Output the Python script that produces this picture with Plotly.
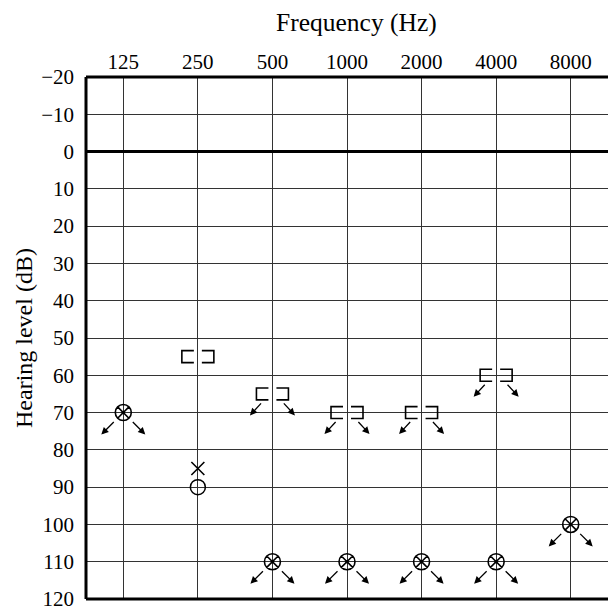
import plotly.graph_objects as go

# ---------------- data ----------------
freq_labels = ["125", "250", "500", "1000", "2000", "4000", "8000"]
y_ticks = list(range(-20, 121, 10))

# air conduction, both ears (⊗) – all no-response
both_freqs = ["125", "500", "1000", "2000", "4000", "8000"]
both_levels = [70, 110, 110, 110, 110, 100]
both_noresp = [True, True, True, True, True, True]

# right ear air (O)
right_freqs = ["250"]
right_levels = [90]

# left ear air (X)
left_freqs = ["250"]
left_levels = [85]

# masked bone conduction ([ ])
bone_freqs = ["250", "500", "1000", "2000", "4000"]
bone_levels = [55, 65, 70, 70, 60]
bone_noresp = [False, True, True, True, True]

# ---------------- layout geometry ----------------
W, H = 608, 608
ML, MR, MT, MB = 86, 0, 76.5, 8.5
XR = [-0.5, 6.5]
YR = [120, -20]
PW = W - ML - MR
PH = H - MT - MB
px_x = PW / (XR[1] - XR[0])          # pixels per category unit
px_y = PH / abs(YR[0] - YR[1])       # pixels per dB

FONT = "Liberation Serif, Times New Roman, serif"
INK = "black"


def xi(labels):
    return [freq_labels.index(f) for f in labels]


fig = go.Figure()

# both ears ⊗
fig.add_trace(go.Scatter(
    x=xi(both_freqs), y=both_levels, mode="markers",
    marker=dict(symbol="circle-x-open", size=16, color=INK, line=dict(width=1.6, color=INK)),
    showlegend=False, hoverinfo="skip", cliponaxis=False))
fig.add_trace(go.Scatter(
    x=xi(both_freqs), y=both_levels, mode="markers",
    marker=dict(symbol="circle", size=3.5, color=INK),
    showlegend=False, hoverinfo="skip", cliponaxis=False))

# right ear O
fig.add_trace(go.Scatter(
    x=xi(right_freqs), y=right_levels, mode="markers",
    marker=dict(symbol="circle-open", size=15, color=INK, line=dict(width=1.5, color=INK)),
    showlegend=False, hoverinfo="skip"))

# left ear X
fig.add_trace(go.Scatter(
    x=xi(left_freqs), y=left_levels, mode="markers",
    marker=dict(symbol="x-thin-open", size=13, color=INK, line=dict(width=1.6, color=INK)),
    showlegend=False, hoverinfo="skip"))

# masked bone brackets
b_in = 4 / px_x
b_out = 16 / px_x
b_h = 6 / px_y
bx, by = [], []
for x0, y0 in zip(xi(bone_freqs), bone_levels):
    bx += [x0 - b_in, x0 - b_out, x0 - b_out, x0 - b_in, None,
           x0 + b_in, x0 + b_out, x0 + b_out, x0 + b_in, None]
    by += [y0 - b_h, y0 - b_h, y0 + b_h, y0 + b_h, None,
           y0 - b_h, y0 - b_h, y0 + b_h, y0 + b_h, None]
fig.add_trace(go.Scatter(
    x=bx, y=by, mode="lines", line=dict(color=INK, width=1.6),
    showlegend=False, hoverinfo="skip"))

# no-response arrows
annotations = []


def add_arrows(x0, y0, head, tail):
    for sgn in (-1, 1):
        hx, hy = sgn * head[0], head[1]
        tx, ty = sgn * tail[0], tail[1]
        annotations.append(dict(
            x=x0 + hx / px_x, y=y0 + hy / px_y, xref="x", yref="y",
            ax=tx - hx, ay=ty - hy, axref="pixel", ayref="pixel",
            text="", showarrow=True, arrowhead=2, arrowsize=1.1,
            arrowwidth=1.3, arrowcolor=INK))


for x0, y0, nr in zip(xi(both_freqs), both_levels, both_noresp):
    if nr:
        add_arrows(x0, y0, (22, 22), (8, 8))
for x0, y0, nr in zip(xi(bone_freqs), bone_levels, bone_noresp):
    if nr:
        add_arrows(x0, y0, (22.5, 21.5), (10, 8))

# titles
annotations.append(dict(
    text="Frequency (Hz)", xref="paper", yref="paper",
    x=(356 - ML) / PW, y=1 + (MT - 22) / PH, xanchor="center", yanchor="middle",
    showarrow=False, font=dict(family=FONT, size=25.5, color=INK)))
annotations.append(dict(
    text="Hearing level (dB)", xref="paper", yref="paper",
    x=(24 - ML) / PW, y=0.5, xanchor="center", yanchor="middle", textangle=-90,
    showarrow=False, font=dict(family=FONT, size=24, color=INK)))

# heavy frame lines and 0 dB line
shapes = [
    dict(type="line", xref="paper", yref="paper", x0=0, x1=0, y0=0, y1=1,
         line=dict(color=INK, width=3)),
    dict(type="line", xref="paper", yref="paper", x0=0, x1=1, y0=1, y1=1,
         line=dict(color=INK, width=3)),
    dict(type="line", xref="paper", yref="paper", x0=0, x1=1, y0=0, y1=0,
         line=dict(color=INK, width=3)),
    dict(type="line", xref="paper", yref="y", x0=0, x1=1, y0=0, y1=0,
         line=dict(color=INK, width=3)),
]

fig.update_layout(
    width=W, height=H,
    margin=dict(l=ML, r=MR, t=MT, b=MB, pad=0, autoexpand=False),
    paper_bgcolor="white", plot_bgcolor="white",
    font=dict(family=FONT, size=21, color=INK),
    annotations=annotations, shapes=shapes,
    xaxis=dict(range=XR, side="top", tickmode="array",
               tickvals=list(range(len(freq_labels))), ticktext=freq_labels,
               showgrid=True, gridcolor="#333", gridwidth=1.3,
               zeroline=False, showline=False, ticks="", automargin=False,
               ticklabelstandoff=3, fixedrange=True, ticklabeloverflow="allow",
               tickfont=dict(family=FONT, size=21, color=INK)),
    yaxis=dict(range=YR, tickmode="array", tickvals=y_ticks,
               ticktext=[("\u2212" + str(-v)) if v < 0 else str(v) for v in y_ticks],
               showgrid=True, gridcolor="#333", gridwidth=1.3,
               zeroline=False, showline=False, ticks="", automargin=False,
               ticklabelstandoff=11, fixedrange=True, ticklabeloverflow="allow",
               tickfont=dict(family=FONT, size=21, color=INK)),
)

fig.write_html(
    "out.html",
    config={"displayModeBar": False},
    post_script="document.body.style.margin='0px';document.body.style.padding='0px';",
)
